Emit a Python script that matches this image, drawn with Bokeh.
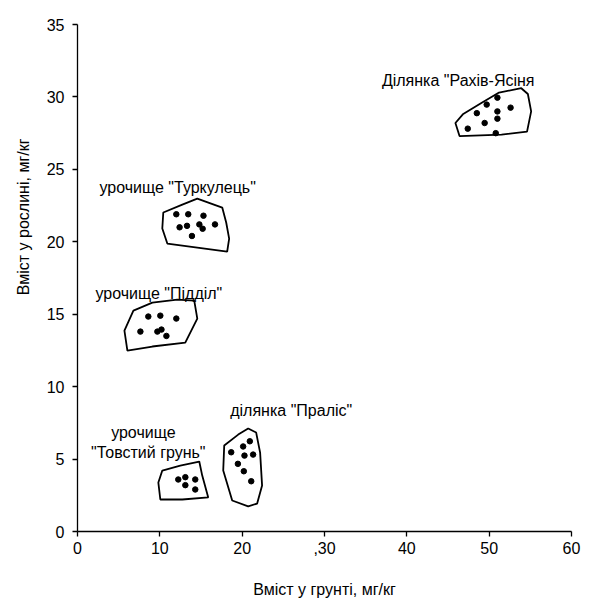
from bokeh.plotting import figure
from bokeh.models import Range1d, FixedTicker, Title
from bokeh.core.properties import value
from bokeh.embed import file_html
from bokeh.resources import INLINE

FONT = "Liberation Sans"

# ---- data: (soil content, plant content) per site ----
rakhiv_x = [51.0, 49.7, 52.6, 51.0, 48.5, 51.0, 49.45, 47.4, 50.8]
rakhiv_y = [29.95, 29.47, 29.26, 29.0, 28.88, 28.5, 28.2, 27.81, 27.5]

turk_x = [12.0, 13.45, 15.3, 12.4, 13.3, 14.8, 15.2, 16.7, 13.9]
turk_y = [21.9, 21.9, 21.8, 21.0, 21.1, 21.2, 20.9, 21.2, 20.4]

piddil_x = [8.6, 10.06, 12.0, 7.64, 9.7, 10.2, 10.8]
piddil_y = [14.84, 14.9, 14.7, 13.8, 13.8, 13.94, 13.5]

tovst_x = [12.24, 13.1, 14.3, 13.1, 14.3]
tovst_y = [3.59, 3.75, 3.59, 3.2, 2.9]

pralis_x = [20.93, 20.12, 18.67, 21.33, 20.28, 19.48, 20.2, 21.1]
pralis_y = [6.23, 5.87, 5.47, 5.31, 5.24, 4.67, 4.16, 3.47]

# hand-drawn outlines of each group (data units)
rakhiv_ox = [46.8, 49.1, 51.2, 53.9, 54.7, 55.1, 54.6, 51.5, 46.4, 45.9]
rakhiv_oy = [28.8, 29.6, 30.3, 30.6, 30.2, 29.0, 27.6, 27.4, 27.3, 28.2]

turk_ox = [10.42, 12.73, 14.55, 17.58, 18.06, 18.42, 18.18, 14.55, 10.91, 10.30]
turk_oy = [22.02, 22.57, 22.98, 22.36, 21.33, 20.22, 19.32, 19.60, 19.88, 20.92]

piddil_ox = [6.79, 9.09, 12.12, 14.18, 14.55, 13.09, 9.09, 6.06, 5.70]
piddil_oy = [15.25, 15.80, 16.01, 15.94, 14.70, 13.04, 12.77, 12.49, 13.87]

tovst_ox = [10.30, 12.48, 14.79, 15.15, 15.88, 12.73, 10.06, 9.82]
tovst_oy = [4.21, 4.55, 4.83, 3.86, 2.35, 2.21, 2.21, 3.38]

pralis_ox = [19.52, 20.73, 21.70, 22.18, 22.42, 21.82, 20.73, 18.79, 17.70, 17.82]
pralis_oy = [6.69, 7.11, 6.83, 5.45, 3.17, 1.93, 1.73, 2.14, 4.21, 5.94]

# group labels
lab_text = ['Ділянка "Рахів-Ясіня', 'урочище "Туркулець"', 'урочище "Підділ"',
            'ділянка "Праліс"']
lab_x = [36.97, 2.67, 2.18, 18.55]
lab_y = [31.12, 23.74, 16.43, 8.35]
lab2_text = ['урочище', '"Товстий грунь"']
lab2_x = [8.0, 8.6]
lab2_y = [6.83, 5.45]

x_ticks = [0, 10, 20, 30, 40, 50, 60]
x_tick_labels = ["0", "10", "20", ",30", "40", "50", "60"]
y_ticks = [0, 5, 10, 15, 20, 25, 30, 35]

p = figure(width=601, height=601, output_backend="svg", toolbar_location=None,
           x_range=Range1d(0, 60), y_range=Range1d(0, 35),
           min_border_left=76, min_border_right=30, min_border_top=24,
           min_border_bottom=70)
p.outline_line_color = None
p.grid.visible = False
p.background_fill_color = "white"
p.border_fill_color = "white"

for ax in (p.xaxis[0], p.yaxis[0]):
    ax.axis_line_color = "black"
    ax.axis_line_width = 1.3
    ax.major_tick_line_color = "black"
    ax.major_tick_line_width = 1.3
    ax.major_tick_out = 5
    ax.major_tick_in = 0
    ax.minor_tick_line_color = None
    ax.major_label_text_font = FONT
    ax.major_label_text_font_size = "16px"
    ax.major_label_text_color = "black"
    ax.axis_label_text_font = FONT
    ax.axis_label_text_font_style = "normal"
    ax.axis_label_text_font_size = "16px"
    ax.axis_label_text_color = "black"

p.xaxis.ticker = FixedTicker(ticks=x_ticks)
p.xaxis.major_label_overrides = {t: s for t, s in zip(x_ticks, x_tick_labels)}
p.yaxis.ticker = FixedTicker(ticks=y_ticks)
p.xaxis.axis_label = "Вміст у грунті, мг/кг"
p.xaxis.axis_label_standoff = 24
p.yaxis.major_label_standoff = 8

# y-axis title placed as in the reference (above centre)
p.add_layout(Title(text="Вміст у рослині, мг/кг", align="right", offset=114,
                   text_font=FONT, text_font_size="16px", text_font_style="normal",
                   text_color="black", standoff=24), "left")

groups = [
    (rakhiv_x, rakhiv_y, rakhiv_ox, rakhiv_oy),
    (turk_x, turk_y, turk_ox, turk_oy),
    (piddil_x, piddil_y, piddil_ox, piddil_oy),
    (tovst_x, tovst_y, tovst_ox, tovst_oy),
    (pralis_x, pralis_y, pralis_ox, pralis_oy),
]
for gx, gy, ox, oy in groups:
    p.patch(ox, oy, fill_color=None, line_color="black", line_width=1.8)
    p.scatter(gx, gy, marker="circle", size=5.5, fill_color="black", line_color="black")

p.text(x=lab_x, y=lab_y, text=lab_text, text_font=value(FONT), text_font_size="16px",
       text_align="left", text_baseline="middle", text_color="black")
p.text(x=lab2_x, y=lab2_y, text=lab2_text, text_font=value(FONT), text_font_size="16px",
       text_align="center", text_baseline="middle", text_color="black")

open("out.html", "w").write(file_html(p, INLINE))
